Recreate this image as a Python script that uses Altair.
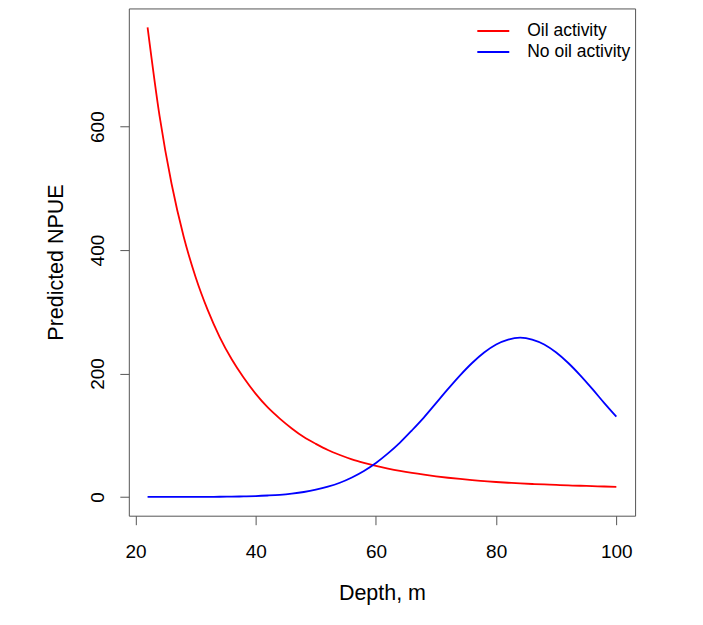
import altair as alt
import pandas as pd

depth = [22, 24, 26, 28, 30, 32, 34, 36, 38, 40,
         42, 44, 46, 48, 50, 52, 54, 56, 58, 60,
         62, 64, 66, 68, 70, 72, 74, 76, 78, 80,
         82, 84, 86, 88, 90, 92, 94, 96, 98, 100]

oil_activity = [761, 617, 507, 422, 356, 303, 259, 223, 193, 167,
                145, 127, 111, 97, 86, 76, 68, 61, 55.3, 50.3,
                46, 42.2, 38.9, 36, 33.4, 31.1, 29.1, 27.3, 25.7, 24.2,
                23, 21.9, 21, 20.2, 19.4, 18.7, 18.1, 17.5, 16.9, 16.4]

no_oil_activity = [0, 0, 0, 0.1, 0.1, 0.2, 0.3, 0.5, 0.9, 1.4,
                   2.3, 3.5, 5.4, 8, 11.7, 16.6, 23, 31.5, 42, 55,
                   70.5, 88, 108, 129, 152, 175, 197, 217, 234, 247,
                   255, 258, 255, 247, 234, 217, 197, 175, 152, 130]

groups = ["Oil activity", "No oil activity"]
colors = ["#ff0000", "#0000ff"]
x_ticks = [20, 40, 60, 80, 100]
y_ticks = [0, 200, 400, 600]

df = pd.DataFrame({
    "Depth": depth + depth,
    "NPUE": oil_activity + no_oil_activity,
    "Group": [groups[0]] * len(depth) + [groups[1]] * len(depth),
})

FONT = "Liberation Sans"

chart = alt.Chart(df).mark_line(interpolate="monotone", strokeWidth=1.8).encode(
    x=alt.X("Depth:Q",
            scale=alt.Scale(domain=[18.88, 103.12], nice=False, zero=False),
            axis=alt.Axis(values=x_ticks, title="Depth, m", grid=False, domain=False,
                          tickSize=9, tickColor="#555", labelPadding=18,
                          labelFontSize=19, labelFont=FONT, labelColor="#000",
                          labelFlush=False, labelOverlap=False,
                          titleFontSize=21.5, titleFont=FONT, titleColor="#000",
                          titleFontWeight="normal", titleBaseline="alphabetic",
                          titleX=253.5, titleY=84, titleAlign="center")),
    y=alt.Y("NPUE:Q",
            scale=alt.Scale(domain=[-30.4, 791.5], nice=False, zero=False),
            axis=alt.Axis(values=y_ticks, title="Predicted NPUE", grid=False, domain=False,
                          tickSize=9, tickColor="#555", labelPadding=16,
                          labelAngle=270, labelAlign="center", labelBaseline="alphabetic",
                          labelFontSize=19, labelFont=FONT, labelColor="#000",
                          labelFlush=False, labelOverlap=False,
                          titleFontSize=21.5, titleFont=FONT, titleColor="#000",
                          titleFontWeight="normal", titleAngle=270,
                          titleBaseline="alphabetic", titleAlign="center",
                          titleX=-66, titleY=254)),
    color=alt.Color("Group:N",
                    scale=alt.Scale(domain=groups, range=colors),
                    legend=alt.Legend(title=None, orient="none", legendX=356, legendY=13.5,
                                      symbolType="M-2,0L2,0", symbolSize=256,
                                      symbolStrokeWidth=2, symbolFillColor="transparent",
                                      labelFontSize=17.5,
                                      labelFont=FONT, labelColor="#000",
                                      labelOffset=25, rowPadding=3, padding=0)),
).properties(
    width=507,
    height=508,
    autosize=alt.AutoSizeParams(type="none"),
    padding={"left": 121, "top": 0, "right": 60, "bottom": 100},
).configure_view(stroke="#555", strokeWidth=1)

chart.save("out.html", embed_options={"renderer": "svg", "actions": False})
